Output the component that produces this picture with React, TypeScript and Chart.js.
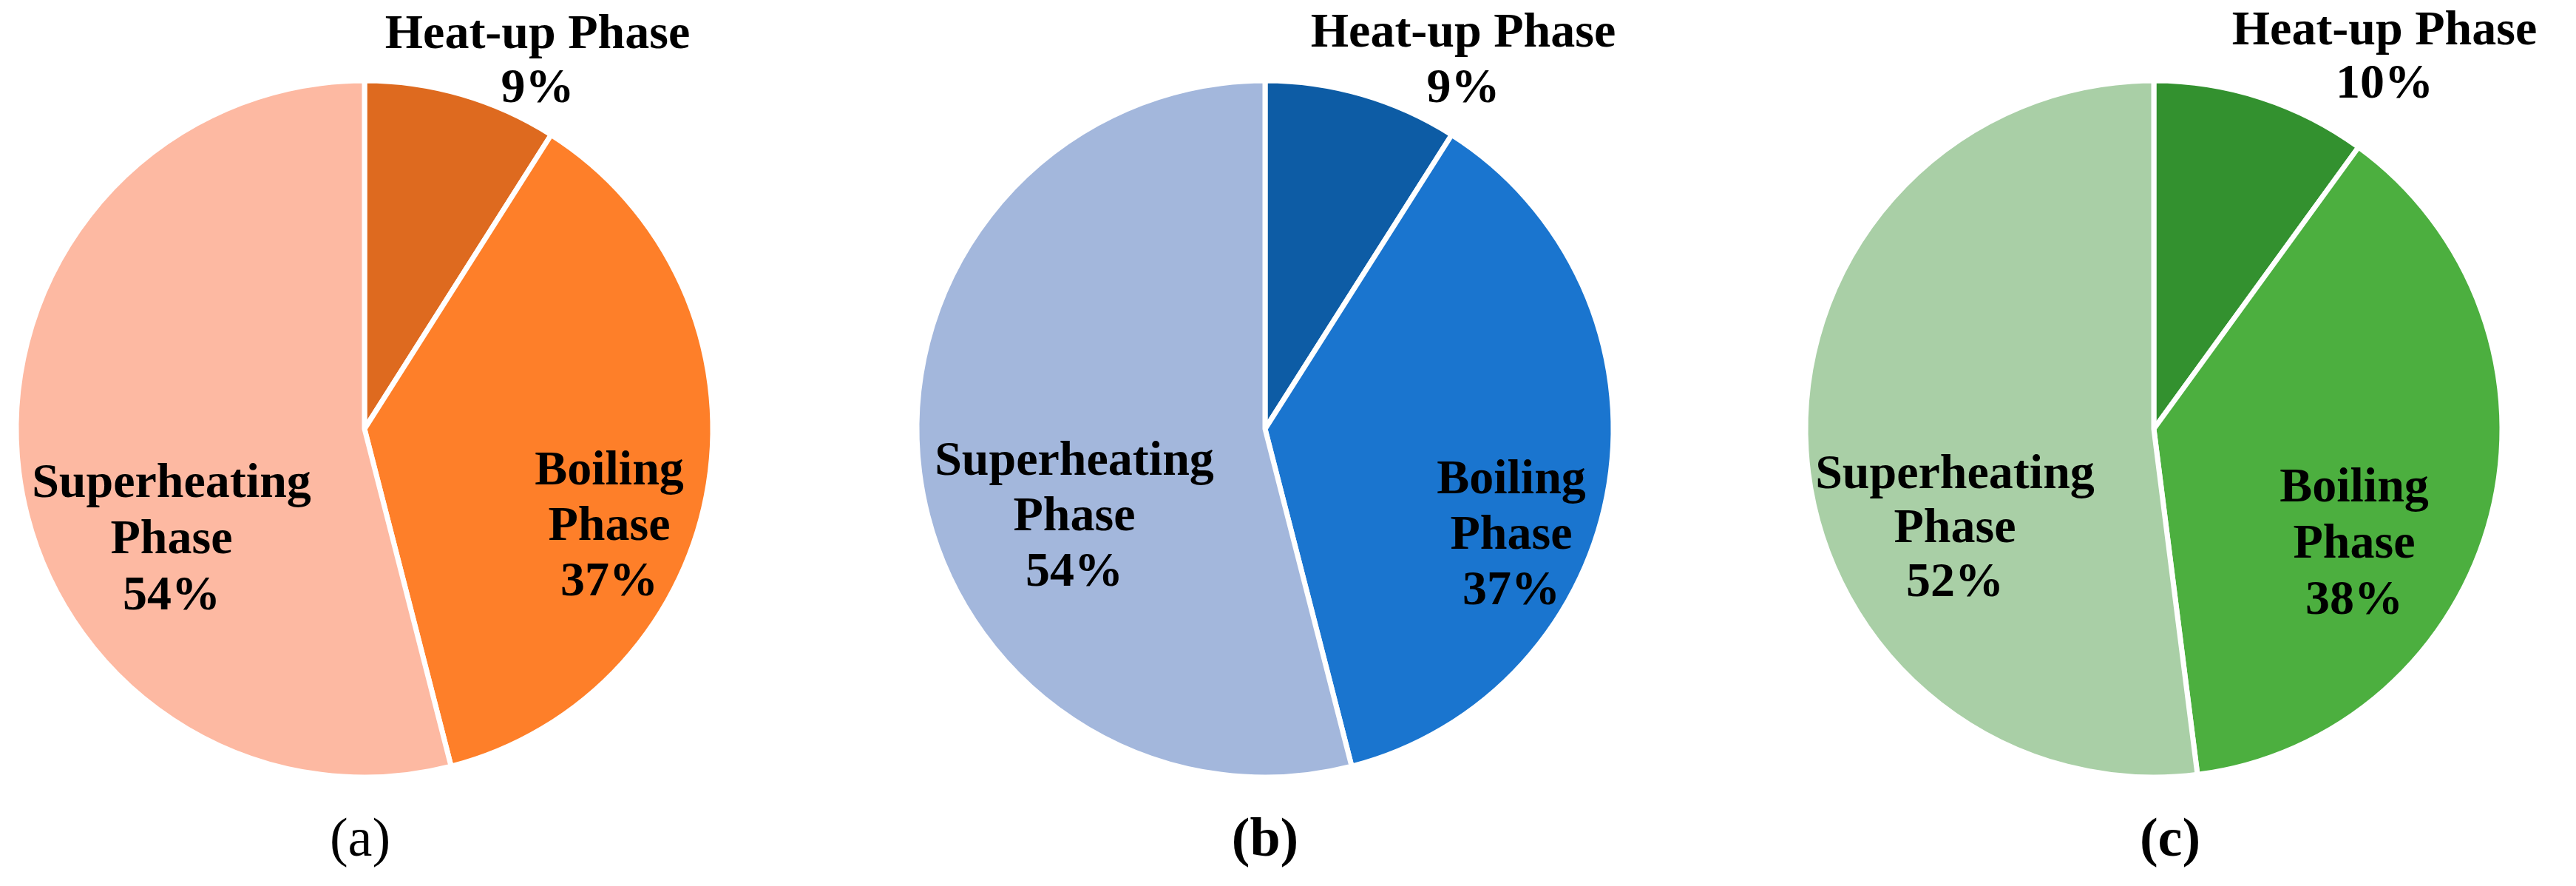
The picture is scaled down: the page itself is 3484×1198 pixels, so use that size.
import React, { useEffect, useRef } from 'react';
import { Chart, registerables } from 'chart.js';

Chart.register(...registerables);

// ---------- data ----------
const categories = ['Heat-up Phase', 'Boiling Phase', 'Superheating Phase'];
const valuesA = [9, 37, 54];
const valuesB = [9, 37, 54];
const valuesC = [10, 38, 52];
const panelCaptions = ['(a)', '(b)', '(c)'];

// ---------- styles ----------
const colorsA = ['#DE6A1F', '#FE7F29', '#FDB9A2'];
const colorsB = ['#0D5CA5', '#1A75CF', '#A3B7DC'];
const colorsC = ['#33912F', '#4CAF3F', '#A9CFA6'];

const W = 3484;
const H = 1198;
const FONT = '"Liberation Serif", "Times New Roman", serif';

// label line splitting for each category
const labelLines = (cat: string, v: number): string[] => {
  if (cat === 'Heat-up Phase') return ['Heat-up Phase', v + '%'];
  const parts = cat.split(' ');
  return [...parts, v + '%'];
};

type LabelPos = { dx: number; dy: number; gap: number };
type Panel = {
  values: number[];
  colors: string[];
  caption: string;
  captionBold: boolean;
  captionDx: number;
  cx: number;
  cy: number;
  labels: LabelPos[]; // in category order
};

const panels: Panel[] = [
  {
    values: valuesA,
    colors: colorsA,
    caption: panelCaptions[0],
    captionBold: false,
    captionDx: -6,
    cx: 493,
    cy: 580,
    labels: [
      { dx: 234, dy: -515, gap: 73 },
      { dx: 331, dy: 75, gap: 75 },
      { dx: -261, dy: 92, gap: 76 },
    ],
  },
  {
    values: valuesB,
    colors: colorsB,
    caption: panelCaptions[1],
    captionBold: true,
    captionDx: 0,
    cx: 1711,
    cy: 580,
    labels: [
      { dx: 268, dy: -517, gap: 75 },
      { dx: 333, dy: 87, gap: 75 },
      { dx: -258, dy: 62, gap: 75 },
    ],
  },
  {
    values: valuesC,
    colors: colorsC,
    caption: panelCaptions[2],
    captionBold: true,
    captionDx: 22,
    cx: 2913,
    cy: 580,
    labels: [
      { dx: 312, dy: -520, gap: 72 },
      { dx: 271, dy: 98, gap: 76 },
      { dx: -269, dy: 80, gap: 73 },
    ],
  },
];

function makeChart(canvas: HTMLCanvasElement, p: Panel): Chart {
  const padL = Math.max(0, 2 * p.cx - W);
  const padR = Math.max(0, W - 2 * p.cx);
  const padT = Math.max(0, 2 * p.cy - H);
  const padB = Math.max(0, H - 2 * p.cy);

  const labelPlugin = {
    id: 'phaseLabels' + p.caption,
    afterDraw(chart: any) {
      const meta = chart.getDatasetMeta(0);
      const arc = meta.data[0];
      if (!arc) return;
      const x0 = arc.x;
      const y0 = arc.y;
      const ctx = chart.ctx as CanvasRenderingContext2D;
      ctx.save();
      ctx.fillStyle = '#000000';
      ctx.textAlign = 'center';
      ctx.textBaseline = 'alphabetic';
      ctx.font = `bold 66px ${FONT}`;
      categories.forEach((cat, i) => {
        const lp = p.labels[i];
        const lines = labelLines(cat, p.values[i]);
        lines.forEach((ln, j) => {
          ctx.fillText(ln, x0 + lp.dx, y0 + lp.dy + j * lp.gap);
        });
      });
      ctx.font = `${p.captionBold ? 'bold ' : ''}74px ${FONT}`;
      ctx.fillText(p.caption, x0 + p.captionDx, y0 + 577);
      ctx.restore();
    },
  };

  return new Chart(canvas, {
    type: 'pie',
    data: {
      labels: categories,
      datasets: [
        {
          data: p.values,
          backgroundColor: p.colors,
          borderColor: '#FFFFFF',
          borderWidth: 7,
          hoverOffset: 0,
          offset: 0,
        },
      ],
    },
    options: {
      animation: false,
      responsive: false,
      events: [],
      radius: 471,
      rotation: 0,
      layout: { padding: { left: padL, right: padR, top: padT, bottom: padB } },
      plugins: {
        legend: { display: false },
        tooltip: { enabled: false },
        title: { display: false },
      },
    } as any,
    plugins: [labelPlugin],
  });
}

export default function App() {
  const refA = useRef<HTMLCanvasElement>(null);
  const refB = useRef<HTMLCanvasElement>(null);
  const refC = useRef<HTMLCanvasElement>(null);

  useEffect(() => {
    const refs = [refA, refB, refC];
    const charts: Chart[] = [];
    refs.forEach((r, i) => {
      if (r.current) charts.push(makeChart(r.current, panels[i]));
    });
    return () => charts.forEach((c) => c.destroy());
  }, []);

  const canvasStyle: React.CSSProperties = {
    position: 'absolute',
    left: 0,
    top: 0,
    width: W,
    height: H,
  };

  return (
    <div
      style={{
        position: 'absolute',
        left: 0,
        top: 0,
        width: W,
        height: H,
        background: '#FFFFFF',
        overflow: 'hidden',
      }}
    >
      <canvas ref={refA} width={W} height={H} style={canvasStyle} />
      <canvas ref={refB} width={W} height={H} style={canvasStyle} />
      <canvas ref={refC} width={W} height={H} style={canvasStyle} />
    </div>
  );
}
